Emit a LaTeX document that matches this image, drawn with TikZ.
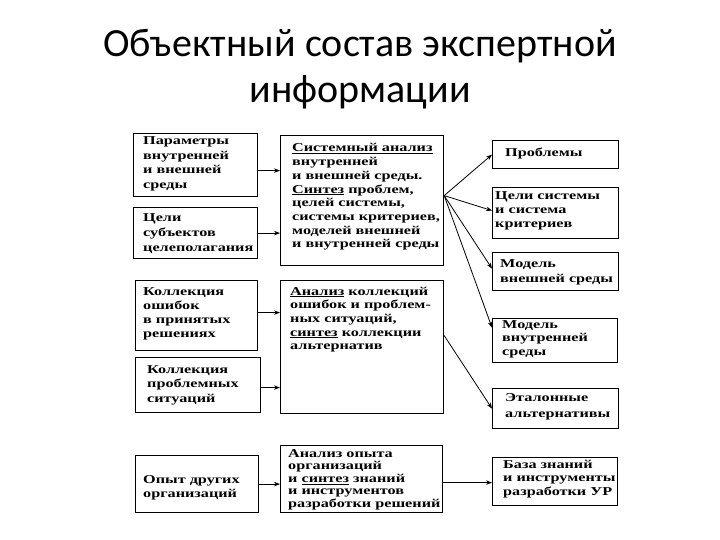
\documentclass[tikz,border=0pt]{standalone}
\usepackage{fontspec}
\setmainfont{Liberation Serif}
\newfontfamily\titlefont{Carlito}
\newfontfamily\boxfont[FakeStretch=1.35]{Liberation Serif Bold}
\usetikzlibrary{arrows.meta,calc}
\newcommand{\mlines}[1]{\begin{tabular}[t]{@{}l@{}}#1\end{tabular}}
\newcommand{\bfs}[1]{\boxfont\fontsize{12}{#1}\selectfont}
\tikzset{
  boxst/.style={draw=black, line width=1.2pt, inner sep=0pt, anchor=north west},
  txt/.style={anchor=base west, inner sep=0pt, text=black},
  arr/.style={draw=black, line width=0.8pt, -{Stealth[length=6pt,width=4.5pt]}},
}
\newcommand{\mkbox}[5]{\node[boxst, minimum width=#4-#2, minimum height=#5-#3] (#1) at (#2,#3) {};}
\begin{document}
\begin{tikzpicture}[x=1pt,y=-1pt]
\useasboundingbox (0,0) rectangle (720,540);
\fill[white] (0,0) rectangle (720,540);
% title
\node[anchor=base, inner sep=0pt] (title) at (360,57)
  {\titlefont\fontsize{40}{46}\selectfont\begin{tabular}[t]{@{}c@{}}Объектный состав экспертной\\информации\end{tabular}};
% boxes
\mkbox{L1}{133}{133}{257}{196}
\mkbox{L2}{133}{207}{257}{258}
\mkbox{L3}{135}{280}{257}{350}
\mkbox{L4}{135}{357}{260}{412}
\mkbox{L5}{135}{455}{258}{512}
\mkbox{M1}{280}{135}{443}{265}
\mkbox{M2}{280}{280}{443}{413}
\mkbox{M3}{280}{445}{442}{512}
\mkbox{R1}{492}{140}{618}{168}
\mkbox{R2}{492}{187}{618}{238}
\mkbox{R3}{492}{252}{618}{290}
\mkbox{R4}{492}{318}{617}{362}
\mkbox{R5}{492}{388}{618}{428}
\mkbox{R6}{492}{457}{617}{505}
% texts
\node[txt] (L1t) at (143,145) {\bfs{14.5}\mlines{Параметры\\внутренней\\и внешней\\среды}};
\node[txt] (L2t) at (143,222) {\bfs{15}\mlines{Цели\\субъектов\\целеполагания}};
\node[txt] (L3t) at (143,295) {\bfs{14}\mlines{Коллекция\\ошибок\\в принятых\\решениях}};
\node[txt] (L4t) at (147,373) {\bfs{14.5}\mlines{Коллекция\\проблемных\\ситуаций}};
\node[txt] (L5t) at (143,483) {\bfs{14}\mlines{Опыт других\\организаций}};
\node[txt] (M1t) at (292,152) {\bfs{13.7}\mlines{\underline{Системный анализ}\\внутренней\\и внешней среды.\\\underline{Синтез} проблем,\\целей системы,\\системы критериев,\\моделей внешней\\и внутренней среды}};
\node[txt] (M2t) at (290,295) {\bfs{13.7}\mlines{\underline{Анализ} коллекций\\ошибок и проблем-\\ных ситуаций,\\\underline{синтез} коллекции\\альтернатив}};
\node[txt] (M3t) at (288,457) {\bfs{12.6}\mlines{Анализ опыта\\организаций\\и \underline{синтез} знаний\\и инструментов\\разработки решений}};
\node[txt] (R1t) at (505,157) {\bfs{14}Проблемы};
\node[txt] (R2t) at (495,200) {\bfs{14}\mlines{Цели системы\\и система\\критериев}};
\node[txt] (R3t) at (500,267) {\bfs{15}\mlines{Модель\\внешней среды}};
\node[txt] (R4t) at (502,328) {\bfs{13.5}\mlines{Модель\\внутренней\\среды}};
\node[txt] (R5t) at (505,401) {\bfs{16}\mlines{Эталонные\\альтернативы}};
\node[txt] (R6t) at (503,468) {\bfs{13.5}\mlines{База знаний\\и инструменты\\разработки УР}};
% connectors left -> middle
\draw[arr] ([yshift=-5.5pt]L1.east) -- ([yshift=-5.5pt]L1.east -| M1.west);
\draw[arr] (L2.east) -- (L2.east -| M1.west);
\draw[arr] ([yshift=3pt]L3.east) -- ([yshift=3pt]L3.east -| M2.west);
\draw[arr] ([yshift=-2.5pt]L4.east) -- ([yshift=-2.5pt]L4.east -| M2.west);
\draw[arr] (L5.east) -- (L5.east -| M3.west);
\draw[arr] ([yshift=-1pt]R6.west -| M3.east) -- ([yshift=-1pt]R6.west);
% fan
\coordinate (f1) at ([yshift=5pt]M1.east);
\coordinate (f2) at ([yshift=11.5pt]M2.east);
\draw[arr] (f1) -- (R1.west);
\draw[arr] (f1) -- ([yshift=2.5pt]R2.west);
\draw[arr] (f1) -- ([yshift=3pt]R3.west);
\draw[arr] (f1) -- ([yshift=13pt]R4.west);
\draw[arr] (f2) -- (R5.west);
\end{tikzpicture}
\end{document}
